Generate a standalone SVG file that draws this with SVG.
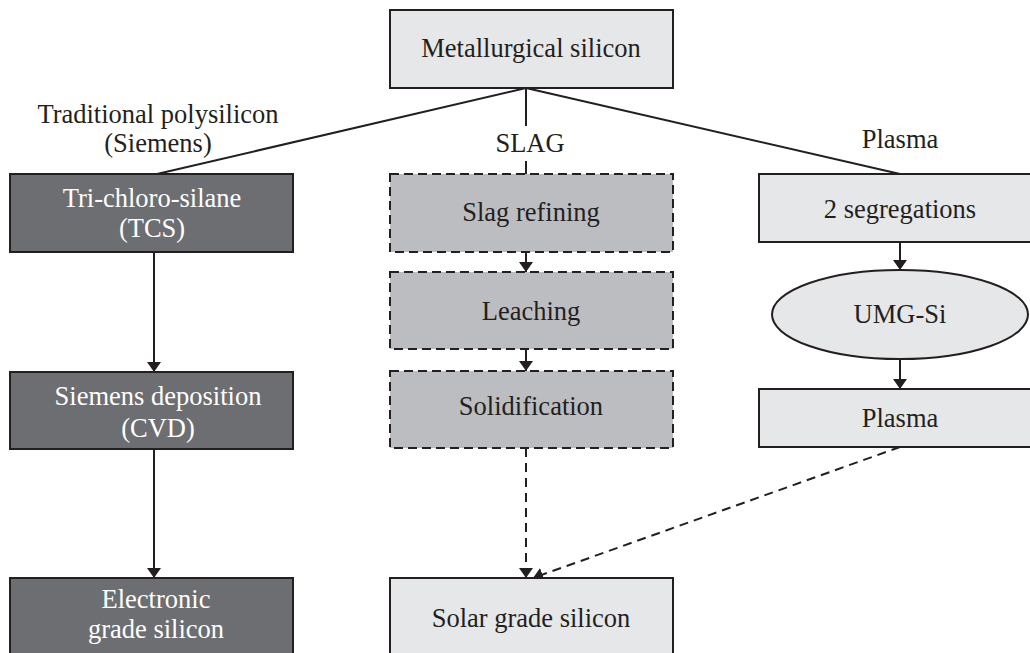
<svg xmlns="http://www.w3.org/2000/svg" width="1030" height="653" viewBox="0 0 1030 653">
<defs>
<marker id="ah" viewBox="0 0 10 14" refX="10" refY="7" markerWidth="10" markerHeight="14" markerUnits="userSpaceOnUse" orient="auto">
<path d="M0,0 L10,7 L0,14 Z" fill="#231f20"/>
</marker>
<style>
.t{font-family:"Liberation Serif","Times New Roman",serif;font-size:26.5px;fill:#231f20;text-anchor:middle}
.w{fill:#ffffff}
.light{fill:#e6e7e8;stroke:#231f20;stroke-width:2}
.dark{fill:#6d6e71;stroke:#231f20;stroke-width:2}
.dash{fill:#bcbdc0;stroke:#231f20;stroke-width:2;stroke-dasharray:9 5}
.c{fill:none;stroke:#231f20;stroke-width:2}
.cd{fill:none;stroke:#231f20;stroke-width:2;stroke-dasharray:9 6}
</style>
</defs>
<rect width="1030" height="653" fill="#ffffff"/>
<g id="connectors">
<line class="c" x1="526" y1="88" x2="157" y2="174"/>
<line class="c" x1="526" y1="88" x2="900" y2="174"/>
<line class="c" x1="526" y1="88" x2="526" y2="126"/>
<line class="c" x1="526" y1="161" x2="526" y2="174"/>
<line class="c" x1="154" y1="252" x2="154" y2="372" marker-end="url(#ah)"/>
<line class="c" x1="154" y1="449" x2="154" y2="578" marker-end="url(#ah)"/>
<line class="c" x1="526" y1="252" x2="526" y2="272" marker-end="url(#ah)"/>
<line class="c" x1="526" y1="349" x2="526" y2="371" marker-end="url(#ah)"/>
<line class="cd" x1="526" y1="448" x2="526" y2="578" marker-end="url(#ah)"/>
<line class="cd" x1="900" y1="447" x2="533" y2="578" marker-end="url(#ah)"/>
<line class="c" x1="900" y1="242" x2="900" y2="270" marker-end="url(#ah)"/>
<line class="c" x1="900" y1="359" x2="900" y2="389" marker-end="url(#ah)"/>
</g>
<g id="labels">
<text class="t" x="158" y="123">Traditional polysilicon</text>
<text class="t" x="158" y="152">(Siemens)</text>
<text class="t" x="530" y="152">SLAG</text>
<text class="t" x="900" y="148">Plasma</text>
</g>
<g id="metallurgical">
<rect class="light" x="390" y="10" width="283" height="78"/>
<text class="t" x="531" y="57">Metallurgical silicon</text>
</g>
<g id="tcs">
<rect class="dark" x="10" y="174" width="283" height="78"/>
<text class="t w" x="152" y="207">Tri-chloro-silane</text>
<text class="t w" x="152" y="237">(TCS)</text>
</g>
<g id="siemens">
<rect class="dark" x="10" y="372" width="283" height="77"/>
<text class="t w" x="158" y="405">Siemens deposition</text>
<text class="t w" x="158" y="437">(CVD)</text>
</g>
<g id="electronic">
<rect class="dark" x="10" y="578" width="283" height="78"/>
<text class="t w" x="156" y="608">Electronic</text>
<text class="t w" x="156" y="638">grade silicon</text>
</g>
<g id="slag-refining">
<rect class="dash" x="390" y="174" width="283" height="78"/>
<text class="t" x="531" y="221">Slag refining</text>
</g>
<g id="leaching">
<rect class="dash" x="390" y="272" width="283" height="77"/>
<text class="t" x="531" y="320">Leaching</text>
</g>
<g id="solidification">
<rect class="dash" x="390" y="371" width="283" height="77"/>
<text class="t" x="531" y="415">Solidification</text>
</g>
<g id="solar">
<rect class="light" x="390" y="578" width="283" height="78"/>
<text class="t" x="531" y="627">Solar grade silicon</text>
</g>
<g id="segregations">
<rect class="light" x="759" y="174" width="283" height="68"/>
<text class="t" x="900" y="218">2 segregations</text>
</g>
<g id="umg">
<ellipse class="light" cx="900" cy="314.5" rx="128" ry="44.5"/>
<text class="t" x="900" y="323">UMG-Si</text>
</g>
<g id="plasma">
<rect class="light" x="759" y="389" width="283" height="58"/>
<text class="t" x="900" y="427">Plasma</text>
</g>
</svg>
